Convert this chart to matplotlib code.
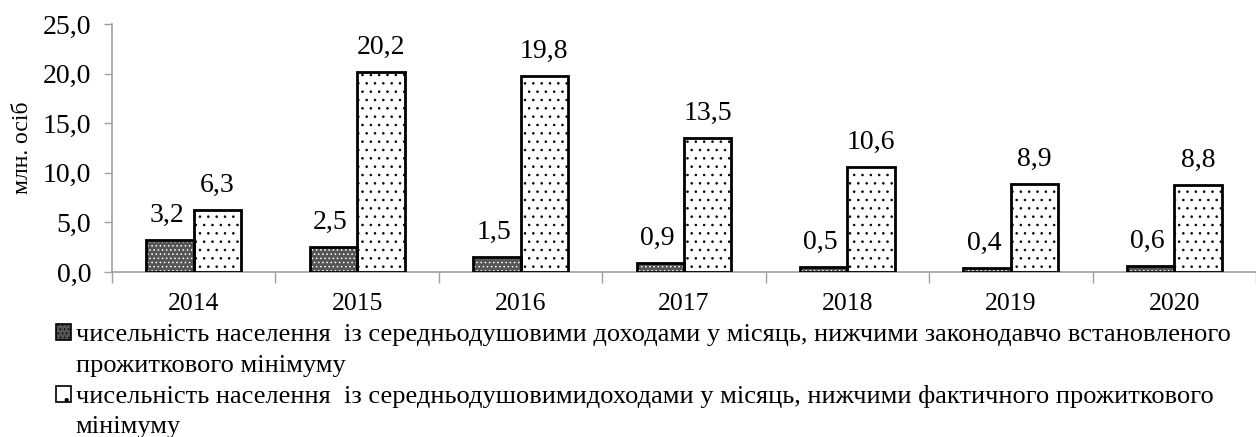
import matplotlib
matplotlib.use("Agg")
import matplotlib.pyplot as plt
import matplotlib.patches as mpatches
import numpy as np

years = ["2014", "2015", "2016", "2017", "2018", "2019", "2020"]
legal_min = [3.2, 2.5, 1.5, 0.9, 0.5, 0.4, 0.6]
actual_min = [6.3, 20.2, 19.8, 13.5, 10.6, 8.9, 8.8]
yticks = [0.0, 5.0, 10.0, 15.0, 20.0, 25.0]
ylabel = "млн. осіб"
legend_lines_1 = ["чисельність населення  із середньодушовими доходами у місяць, нижчими законодавчо встановленого",
                  "прожиткового мінімуму"]
legend_lines_2 = ["чисельність населення  із середньодушовимидоходами у місяць, нижчими фактичного прожиткового",
                  "мінімуму"]

plt.rcParams['font.family'] = ['Liberation Serif', 'DejaVu Serif']
plt.rcParams['hatch.linewidth'] = 0.6

W, H = 1256, 437
fig = plt.figure(figsize=(W/100, H/100), dpi=100)
ax = fig.add_axes([112/W, 1 - 272/H, (W - 112)/W, (272 - 24)/H])

x = np.arange(len(years))
w = 0.29
dark = '#555555'
ax.bar(x - w/2, legal_min, w, color=dark, edgecolor='white', hatch='....', linewidth=0, zorder=2)
ax.bar(x - w/2, legal_min, w, fill=False, edgecolor='black', linewidth=2, zorder=3)
ax.bar(x + w/2, actual_min, w, color='white', edgecolor='black', hatch='..', linewidth=0, zorder=2)
ax.bar(x + w/2, actual_min, w, fill=False, edgecolor='black', linewidth=2, zorder=3)

fs = 20
off = 1.8
for i in range(len(years)):
    ax.text(x[i] - w/2 - 0.02, legal_min[i] + off, f"{legal_min[i]:.1f}".replace('.', ','),
            ha='center', va='baseline', fontsize=fs)
    ax.text(x[i] + w/2, actual_min[i] + off, f"{actual_min[i]:.1f}".replace('.', ','),
            ha='center', va='baseline', fontsize=fs)

ax.set_xlim(-0.5, len(years) - 0.5)
ax.set_ylim(0, 25)
ax.set_yticks(yticks)
ax.set_yticklabels([f"{v:.1f}".replace('.', ',') for v in yticks], fontsize=fs)
ax.set_xticks(x)
ax.set_xticklabels(years, fontsize=18.5)
ax.set_xticks(np.arange(-0.5, len(years), 1.0), minor=True)
ax.tick_params(axis='x', which='major', length=0, pad=15)
ax.tick_params(axis='x', which='minor', length=8, color='#a0a0a0', width=1)
ax.tick_params(axis='y', length=6, color='#a0a0a0', width=1, pad=9)
for s in ['top', 'right']:
    ax.spines[s].set_visible(False)
for s in ['left', 'bottom']:
    ax.spines[s].set_color('#a0a0a0')
    ax.spines[s].set_linewidth(1.2)
ax.set_ylabel(ylabel, fontsize=17)
ax.yaxis.set_label_coords((33 - 112) / (W - 112), 0.5)

h1 = mpatches.Patch(facecolor=dark, edgecolor='black', hatch='....', linewidth=1.2)
h2 = mpatches.Patch(facecolor='white', edgecolor='black', hatch='.', linewidth=1.2)
blank = mpatches.Patch(facecolor='none', edgecolor='none')
handles = [h1, blank, h2, blank]
labels = [legend_lines_1[0], legend_lines_1[1], legend_lines_2[0], legend_lines_2[1]]
leg = fig.legend(handles, labels, loc='upper left', bbox_to_anchor=(56/W, 1 - 324/H),
                 frameon=False, fontsize=19, handlelength=0.55, handleheight=0.55,
                 handletextpad=0.2, labelspacing=0.31, borderaxespad=0, borderpad=0)

fig.savefig("out.png", dpi=100)
